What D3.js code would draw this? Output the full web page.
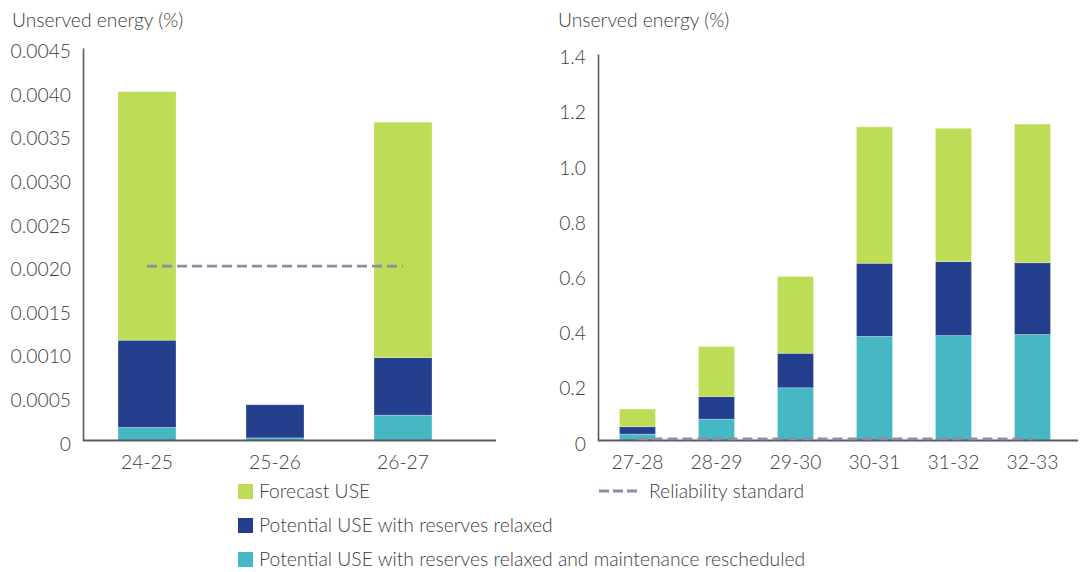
<!DOCTYPE html>
<html>
<head>
<meta charset="utf-8">
<script src="https://cdn.jsdelivr.net/npm/d3@7"></script>
<style>
  body { margin: 0; background: #fff; }
  svg text { font-family: Lato, "Open Sans", sans-serif; font-weight: 300; fill: #404040; }
</style>
</head>
<body>
<svg id="chart" width="1080" height="572"></svg>
<script>
// series keys, bottom to top
const keys = ['maint', 'reserves', 'forecast'];
const seriesNames = [
  'Forecast USE',
  'Potential USE with reserves relaxed',
  'Potential USE with reserves relaxed and maintenance rescheduled'
];

// left panel
const leftYears = ['24-25', '25-26', '26-27'];
const leftMaint = [0.00015, 0.00003, 0.00029];
const leftReserves = [0.00100, 0.00038, 0.00066];
const leftForecast = [0.00285, 0, 0.00270];
const leftTicks = [0, 0.0005, 0.0010, 0.0015, 0.0020, 0.0025, 0.0030, 0.0035, 0.0040, 0.0045];

// right panel
const rightYears = ['27-28', '28-29', '29-30', '30-31', '31-32', '32-33'];
const rightMaint = [0.023, 0.0775, 0.191, 0.377, 0.380, 0.384];
const rightReserves = [0.027, 0.0815, 0.125, 0.265, 0.268, 0.260];
const rightForecast = [0.064, 0.181, 0.278, 0.494, 0.483, 0.502];
const rightTicks = [0, 0.2, 0.4, 0.6, 0.8, 1.0, 1.2, 1.4];

const reliabilityStandard = 0.002;

const colors = { forecast: '#bcdd55', reserves: '#243f8d', maint: '#45b8c4' };
const dashColor = '#8f8aa8';
const fs = 19.3;

const svg = d3.select('#chart');

function panel(opt) {
  const rows = opt.years.map((y, i) => ({
    year: y, maint: opt.maint[i], reserves: opt.reserves[i], forecast: opt.forecast[i]
  }));

  const x = d3.scaleBand()
    .domain(opt.years)
    .range([opt.x0, opt.x1])
    .paddingInner(opt.pad)
    .paddingOuter(opt.pad / 2);

  const y = d3.scaleLinear()
    .domain([0, opt.max])
    .range([440.5, opt.top]);

  const stack = d3.stack().keys(keys)(rows);

  svg.append('g')
    .selectAll('g')
    .data(stack)
    .join('g')
    .attr('fill', (d) => colors[d.key])
    .selectAll('rect')
    .data((d) => d)
    .join('rect')
    .attr('x', (d) => x(d.data.year))
    .attr('width', x.bandwidth())
    .attr('y', (d) => y(d[1]))
    .attr('height', (d) => y(d[0]) - y(d[1]))
    .attr('stroke', 'rgba(255,255,255,0.35)')
    .attr('stroke-width', 0.8);

  // y axis
  const ya = svg.append('g')
    .attr('transform', `translate(${opt.x0}, 0)`)
    .call(d3.axisLeft(y).tickValues(opt.ticks).tickFormat(opt.fmt).tickSize(0).tickSizeOuter(0).tickPadding(12));
  ya.attr('font-family', null).attr('font-size', null);
  ya.select('.domain').attr('stroke', '#595959').attr('stroke-width', 1.6);
  ya.selectAll('text').attr('font-size', fs).attr('dy', '0.5em');

  // x axis
  const xa = svg.append('g')
    .attr('transform', 'translate(0, 440.5)')
    .call(d3.axisBottom(x).tickSize(0).tickPadding(15));
  xa.attr('font-family', null).attr('font-size', null);
  xa.select('.domain').remove();
  xa.selectAll('text').attr('font-size', fs);

  svg.append('line')
    .attr('x1', opt.x0).attr('x2', opt.axisEnd)
    .attr('y1', 440.5).attr('y2', 440.5)
    .attr('stroke', '#595959').attr('stroke-width', 1.8);

  // reliability standard
  const first = opt.years[0];
  const last = opt.years[opt.years.length - 1];
  svg.append('line')
    .attr('x1', x(first) + x.bandwidth() / 2)
    .attr('x2', x(last) + x.bandwidth() / 2)
    .attr('y1', y(reliabilityStandard) - (opt.lineLift || 0))
    .attr('y2', y(reliabilityStandard) - (opt.lineLift || 0))
    .attr('stroke', dashColor)
    .attr('stroke-width', 2.8)
    .attr('stroke-dasharray', '10,5');

  svg.append('text')
    .attr('x', opt.titleX)
    .attr('y', 27)
    .attr('font-size', fs)
    .text('Unserved energy (%)');
}

panel({
  years: leftYears, maint: leftMaint, reserves: leftReserves, forecast: leftForecast,
  x0: 83, x1: 467, axisEnd: 496, pad: 0.547, max: 0.0045, top: 48,
  ticks: leftTicks, fmt: (d) => d === 0 ? '0' : d3.format('.4f')(d), titleX: 12
});

panel({
  years: rightYears, maint: rightMaint, reserves: rightReserves, forecast: rightForecast,
  x0: 598, x1: 1072, axisEnd: 1078, pad: 0.544, max: 1.4, top: 54, lineLift: 1,
  ticks: rightTicks, fmt: (d) => d === 0 ? '0' : d3.format('.1f')(d), titleX: 558
});

// legend
const legendKeys = ['forecast', 'reserves', 'maint'];
const legend = svg.append('g');
legendKeys.forEach((k, i) => {
  const ly = 484 + i * 34;
  legend.append('rect')
    .attr('x', 238).attr('y', ly)
    .attr('width', 15).attr('height', 15)
    .attr('fill', colors[k]);
  legend.append('text')
    .attr('x', 259).attr('y', ly + 14)
    .attr('font-size', fs)
    .text(seriesNames[i]);
});

legend.append('line')
  .attr('x1', 599).attr('x2', 637)
  .attr('y1', 491).attr('y2', 491)
  .attr('stroke', dashColor)
  .attr('stroke-width', 2.8)
  .attr('stroke-dasharray', '10,4');
legend.append('text')
  .attr('x', 649).attr('y', 498)
  .attr('font-size', fs)
  .text('Reliability standard');
</script>
</body>
</html>
